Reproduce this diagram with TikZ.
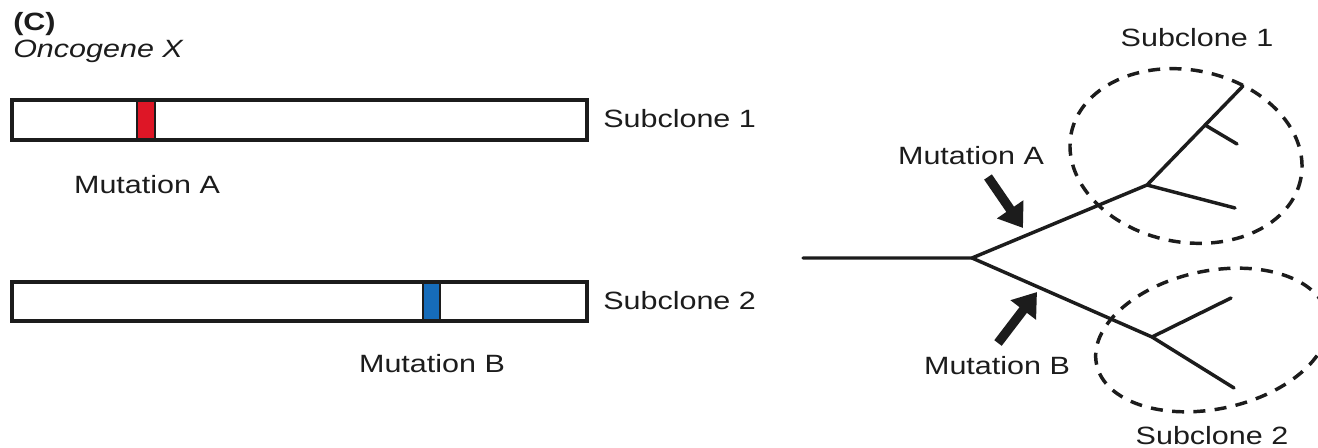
\documentclass[tikz,border=0pt]{standalone}
\usepackage{fontspec}
\setmainfont[FakeStretch=1.22]{Liberation Sans}
\usetikzlibrary{arrows.meta}
\definecolor{mutred}{RGB}{222,22,38}
\definecolor{mutblue}{RGB}{22,108,186}
\definecolor{ink}{RGB}{28,28,28}

\begin{document}
\begin{tikzpicture}[x=0.75pt,y=-0.75pt,
  lbl/.style={inner sep=0pt, text=ink, font=\fontsize{18.75}{22}\selectfont},
  gene/.style={draw=ink, line width=2.5pt},
  band/.style={draw=ink, line width=1pt},
  branch/.style={draw=ink, line width=2.6pt, line cap=round, line join=round},
  clone/.style={draw=ink, line width=2.6pt, dash pattern=on 9pt off 7pt},
  hit/.style={draw=ink, fill=ink, line width=7pt, -{Triangle[length=17pt,width=23pt]}}]

\useasboundingbox (0,0) rectangle (1318,448);

% panel heading
\node[lbl, anchor=base west, font=\fontsize{18.75}{22}\selectfont\bfseries] (panel) at (13,31) {(C)};
\node[lbl, anchor=base west, font=\fontsize{18.75}{22}\selectfont\itshape] (gene) at (13,58) {Oncogene X};

% gene bar of subclone 1 with mutation A
\fill[white] (12,100) rectangle (587,140);
\filldraw[band, fill=mutred] (137,101) rectangle (155,139);
\draw[gene] (12,100) rectangle (587,140);
\node[lbl, anchor=base west] (sc1) at (603,128) {Subclone 1};
\node[lbl, anchor=base] (mA) at (147,194) {Mutation A};

% gene bar of subclone 2 with mutation B
\fill[white] (12,282) rectangle (587,321);
\filldraw[band, fill=mutblue] (423,283) rectangle (440,320);
\draw[gene] (12,282) rectangle (587,321);
\node[lbl, anchor=base west] (sc2) at (603,310) {Subclone 2};
\node[lbl, anchor=base] (mB) at (432,373) {Mutation B};

% phylogenetic tree
\coordinate (root) at (803,258);
\coordinate (fork) at (972,258);
\coordinate (j1) at (1147,185);
\coordinate (t1) at (1243,86);
\coordinate (s1) at (1205,125);
\coordinate (s1e) at (1237,144);
\coordinate (t2) at (1235,208);
\coordinate (j2) at (1152,337);
\coordinate (t3) at (1231,298);
\coordinate (t4) at (1234,388);

\draw[branch] (root) -- (fork) -- (j1) -- (t1);
\draw[branch] (s1) -- (s1e);
\draw[branch] (j1) -- (t2);
\draw[branch] (fork) -- (j2) -- (t4);
\draw[branch] (j2) -- (t3);

% subclone outlines
\draw[clone, rotate around={-11:(1186,156)}] (1186,156) ellipse [x radius=117, y radius=86];
\draw[clone, rotate around={12:(1212,340)}] (1212,340) ellipse [x radius=118, y radius=69];
\node[lbl, anchor=base] (sc1t) at (1197,47) {Subclone 1};
\node[lbl, anchor=base] (sc2t) at (1212,445) {Subclone 2};

% mutation events on the branches
\node[lbl, anchor=base] (mAt) at (971,165) {Mutation A};
\node[lbl, anchor=base] (mBt) at (997,375) {Mutation B};
\coordinate (aA) at (988,177);
\coordinate (aAtip) at (1023,228);
\coordinate (aB) at (998,343);
\coordinate (aBtip) at (1037,292);
\draw[hit] (aA) -- (aAtip);
\draw[hit] (aB) -- (aBtip);
\end{tikzpicture}
\end{document}
